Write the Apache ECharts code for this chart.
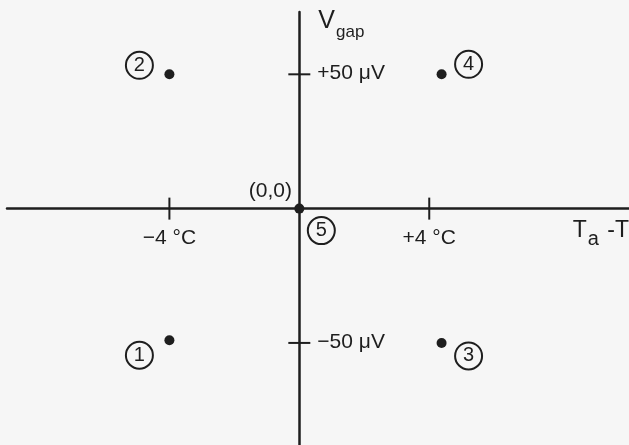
<!DOCTYPE html>
<html>
<head>
<meta charset="utf-8">
<script src="https://cdn.jsdelivr.net/npm/echarts@6/dist/echarts.min.js"></script>
<style>
  html, body { margin: 0; padding: 0; background: #f6f6f6; }
  #chart { width: 629px; height: 445px; }
</style>
</head>
<body>
<div id="chart"></div>
<script>
// measurement cases, numbered as in the figure
const caseLabels = ["1", "2", "3", "4", "5"];
const deltaT = [-4, -4, 4.38, 4.38, 0];      // Ta - T, deg C
const vGap = [-49, 50, -50, 50, 0];          // V gap, microvolts

// tick positions on the two axes
const xTicks = [-4, 4];
const yTicks = [50, -50];

const ink = "#1e1e1e";
const font = "Liberation Sans";

// where the circled number sits relative to its point (pixels)
const calloutOffset = {
    "1": [-30, 15],
    "2": [-30, -9],
    "3": [27, 13],
    "4": [27, -10],
    "5": [22, 22],
};

const chart = echarts.init(document.getElementById("chart"), null, { renderer: "canvas" });

const signed = (v) => (v < 0 ? "\u2212" : "+") + Math.abs(v);

const textStyle = { fontFamily: font, fontSize: 21, color: ink };

const options = {
    animation: false,
    backgroundColor: "#f6f6f6",
    grid: { left: 7, right: 0, top: 12, bottom: 0, outerBoundsMode: "none", containLabel: false },
    xAxis: {
        type: "value",
        min: -9,
        max: 10.15,
        axisLine: { onZero: true, lineStyle: { color: ink, width: 2.5 } },
        axisTick: { show: false },
        splitLine: { show: false },
        axisLabel: { show: false },
        name: "{t|T}{s|a}{t| -T}",
        nameLocation: "end",
        nameGap: 0,
        nameTextStyle: {
            align: "right",
            verticalAlign: "top",
            padding: [4, 0, 0, 0],
            rich: {
                t: { fontFamily: font, fontSize: 23, color: ink },
                s: { fontFamily: font, fontSize: 20, color: ink, padding: [17, 2, 0, 1] },
            },
        },
    },
    yAxis: {
        type: "value",
        min: -88,
        max: 73.2,
        axisLine: { onZero: true, lineStyle: { color: ink, width: 2.5 } },
        axisTick: { show: false },
        splitLine: { show: false },
        axisLabel: { show: false },
        name: "{v|V}{s|gap}",
        nameLocation: "end",
        nameGap: 10,
        nameTextStyle: {
            align: "left",
            verticalAlign: "top",
            padding: [0, 0, 0, 19],
            rich: {
                v: { fontFamily: font, fontSize: 25, color: ink },
                s: { fontFamily: font, fontSize: 17, color: ink, padding: [22, 0, 0, 1] },
            },
        },
    },
    series: [
        {
            // tick marks and labels across the horizontal axis
            type: "scatter",
            silent: true,
            symbol: "rect",
            symbolSize: [2, 22],
            itemStyle: { color: ink, opacity: 1 },
            label: {
                show: true,
                position: "inside",
                offset: [0, 30],
                formatter: (p) => signed(p.value[0]) + " \u00b0C",
                ...textStyle,
            },
            data: xTicks.map((v) => [v, 0]),
        },
        {
            // tick marks and labels across the vertical axis
            type: "scatter",
            silent: true,
            symbol: "rect",
            symbolSize: [22, 2],
            itemStyle: { color: ink, opacity: 1 },
            label: {
                show: true,
                position: "inside",
                align: "left",
                offset: [18, -1],
                formatter: (p) => signed(p.value[1]) + " \u03bcV",
                ...textStyle,
            },
            data: yTicks.map((v) => [0, v]),
        },
        {
            type: "scatter",
            silent: true,
            symbolSize: 10,
            itemStyle: { color: ink, opacity: 1 },
            label: {
                show: true,
                position: "inside",
                formatter: "{b}",
                fontFamily: font,
                fontSize: 20,
                color: ink,
                width: 27,
                height: 27,
                lineHeight: 27,
                align: "center",
                verticalAlign: "middle",
                borderColor: ink,
                borderWidth: 2,
                borderRadius: 14,
            },
            data: caseLabels.map((id, i) => ({
                name: id,
                value: [deltaT[i], vGap[i]],
                label: { offset: calloutOffset[id] },
            })),
        },
        {
            // coordinate note at the origin
            type: "scatter",
            silent: true,
            symbolSize: 1,
            itemStyle: { color: "rgba(0,0,0,0)", opacity: 1 },
            label: {
                show: true,
                position: "inside",
                offset: [-29, -17],
                formatter: (p) => "(" + p.value[0] + "," + p.value[1] + ")",
                ...textStyle,
            },
            data: [[deltaT[4], vGap[4]]],
        },
    ],
};

chart.setOption(options);
window.addEventListener("resize", () => {
    chart.resize();
});
</script>
</body>
</html>
